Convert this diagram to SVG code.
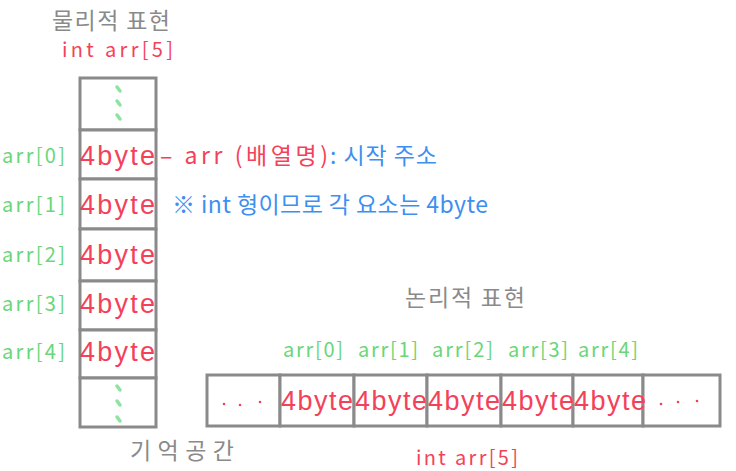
<svg xmlns="http://www.w3.org/2000/svg" width="736" height="471" viewBox="0 0 736 471">
<style>
.cell{fill:#fff;stroke:#8a8a8a;stroke-width:3}
.t{font-family:"Noto Sans CJK KR","Noto Sans",sans-serif}
.title{fill:#8a8a8a;font-size:23px}
.red{fill:#f4415a}
.grn{fill:#6ad67a;font-size:20px}
.blu{fill:#3d8ff0}
.byte{fill:#f4415a;font-size:27px;font-family:"Liberation Sans",sans-serif}
.dash{stroke:#8fe3a0;stroke-width:3.5;stroke-linecap:round}
.dot{fill:#f4415a}
</style>
<rect width="736" height="471" fill="#fff"/>
<g id="titles">
<text class="t title" x="52" y="29" textLength="118">물리적 표현</text>
<text class="t red" x="62" y="57" font-size="20" textLength="111">int arr[5]</text>
<text class="t title" x="405" y="306" textLength="120">논리적 표현</text>
<text class="t title" x="130" y="459" textLength="104">기억공간</text>
<text class="t red" x="416" y="465" font-size="20" textLength="102">int arr[5]</text>
</g>
<g id="vertical-array">
<rect class="cell" x="80" y="78" width="76" height="52"/>
<rect class="cell" x="80" y="130" width="76" height="49"/>
<rect class="cell" x="80" y="179" width="76" height="50"/>
<rect class="cell" x="80" y="229" width="76" height="52"/>
<rect class="cell" x="80" y="281" width="76" height="49"/>
<rect class="cell" x="80" y="330" width="76" height="48"/>
<rect class="cell" x="80" y="378" width="76" height="49"/>
<line class="dash" x1="117" y1="87" x2="120" y2="91"/>
<line class="dash" x1="117" y1="101" x2="120" y2="105"/>
<line class="dash" x1="117" y1="115" x2="120" y2="119"/>
<line class="dash" x1="117" y1="386" x2="120" y2="390"/>
<line class="dash" x1="117" y1="401" x2="120" y2="405"/>
<line class="dash" x1="117" y1="417" x2="120" y2="421"/>
<text class="byte" x="80" y="165" textLength="75">4byte</text>
<text class="byte" x="80" y="214" textLength="75">4byte</text>
<text class="byte" x="80" y="264" textLength="75">4byte</text>
<text class="byte" x="80" y="313" textLength="75">4byte</text>
<text class="byte" x="80" y="361" textLength="75">4byte</text>
</g>
<g id="vertical-labels">
<text class="t grn" x="2" y="163" textLength="63">arr[0]</text>
<text class="t grn" x="2" y="212" textLength="63">arr[1]</text>
<text class="t grn" x="2" y="262" textLength="63">arr[2]</text>
<text class="t grn" x="2" y="311" textLength="63">arr[3]</text>
<text class="t grn" x="2" y="359" textLength="63">arr[4]</text>
</g>
<g id="notes">
<text class="t red" x="160" y="164" font-size="23" textLength="168">– arr (배열명)</text>
<text class="t blu" x="330" y="164" font-size="23" textLength="107">: 시작 주소</text>
<text class="t blu" x="172" y="213" font-size="23" textLength="316">※ int 형이므로 각 요소는 4byte</text>
</g>
<g id="horizontal-array">
<rect class="cell" x="207" y="375" width="73" height="51"/>
<rect class="cell" x="280" y="375" width="74" height="51"/>
<rect class="cell" x="354" y="375" width="73" height="51"/>
<rect class="cell" x="427" y="375" width="74" height="51"/>
<rect class="cell" x="501" y="375" width="72" height="51"/>
<rect class="cell" x="573" y="375" width="70" height="51"/>
<rect class="cell" x="643" y="375" width="77" height="51"/>
<circle class="dot" cx="224" cy="404" r="1.3"/>
<circle class="dot" cx="240" cy="405" r="1.3"/>
<circle class="dot" cx="260" cy="402" r="1.3"/>
<circle class="dot" cx="661" cy="404" r="1.3"/>
<circle class="dot" cx="678" cy="402" r="1.3"/>
<circle class="dot" cx="697" cy="401" r="1.3"/>
<text class="byte" x="281" y="410" textLength="72">4byte</text>
<text class="byte" x="355" y="410" textLength="72">4byte</text>
<text class="byte" x="428" y="410" textLength="72">4byte</text>
<text class="byte" x="502" y="410" textLength="72">4byte</text>
<text class="byte" x="574" y="410" textLength="72">4byte</text>
</g>
<g id="horizontal-labels">
<text class="t grn" x="283" y="357" textLength="60">arr[0]</text>
<text class="t grn" x="358" y="357" textLength="60">arr[1]</text>
<text class="t grn" x="432" y="357" textLength="61">arr[2]</text>
<text class="t grn" x="508" y="357" textLength="60">arr[3]</text>
<text class="t grn" x="578" y="357" textLength="60">arr[4]</text>
</g>
</svg>
